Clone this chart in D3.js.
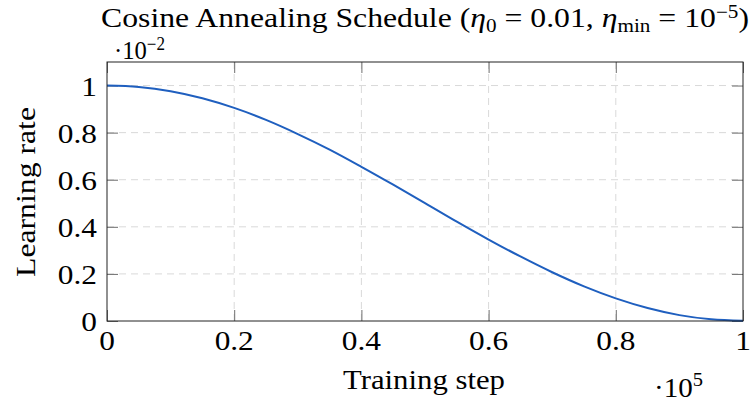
<!DOCTYPE html>
<html>
<head>
<meta charset="utf-8">
<script src="https://cdn.jsdelivr.net/npm/d3@7"></script>
<style>
  html, body { margin: 0; padding: 0; background: #fff; }
  svg text { font-family: "Liberation Serif", "Times New Roman", serif; fill: #000; }
</style>
</head>
<body>
<svg id="chart" width="754" height="403"></svg>
<script>
// Training step (×10^5)
const steps = [0, 0.05, 0.1, 0.15, 0.2, 0.25, 0.3, 0.35, 0.4, 0.45, 0.5,
               0.55, 0.6, 0.65, 0.7, 0.75, 0.8, 0.85, 0.9, 0.95, 1.0];
// Learning rate (×10^-2)
const learningRate = [1.000, 0.994, 0.976, 0.946, 0.905, 0.854, 0.794, 0.728, 0.655, 0.579, 0.501,
                      0.422, 0.346, 0.274, 0.207, 0.147, 0.096, 0.055, 0.025, 0.007, 0.001];
const xTicks = [0, 0.2, 0.4, 0.6, 0.8, 1];
const yTicks = [0, 0.2, 0.4, 0.6, 0.8, 1];
const xTickLabels = ["0", "0.2", "0.4", "0.6", "0.8", "1"];
const yTickLabels = ["0", "0.2", "0.4", "0.6", "0.8", "1"];

const svg = d3.select("#chart");
const L = 107, R = 743, T = 62, B = 321;
const x = d3.scaleLinear().domain([0, 1]).range([L, R]);
const y = d3.scaleLinear().domain([0, 1.1]).range([B, T]);

const tickFont = 27;
const stretchK = 1.16;
const gridColor = "#d9d9d9";

function stretch(sel, k) {
  sel.each(function() {
    const w = this.getComputedTextLength();
    d3.select(this).attr("textLength", w * k).attr("lengthAdjust", "spacingAndGlyphs");
  });
  return sel;
}

// Grid
const grid = svg.append("g");
grid.selectAll("line.vg").data(xTicks.slice(1, -1)).join("line").attr("class", "vg")
  .attr("x1", d => x(d)).attr("x2", d => x(d)).attr("y1", T).attr("y2", B)
  .attr("stroke", gridColor).attr("stroke-width", 1).attr("stroke-dasharray", "7,5");
grid.selectAll("line.hg").data(yTicks.slice(1)).join("line").attr("class", "hg")
  .attr("x1", L).attr("x2", R).attr("y1", d => y(d)).attr("y2", d => y(d))
  .attr("stroke", gridColor).attr("stroke-width", 1).attr("stroke-dasharray", "7,5");

// Axes: inner ticks on all four sides (labels drawn separately)
const tickLen = 11;
const tickColor = "#6e6e6e";
function styleAxis(g) {
  g.select(".domain").remove();
  g.selectAll(".tick line").attr("stroke", tickColor).attr("stroke-width", 1);
  g.selectAll(".tick text").remove();
}
svg.append("g").attr("transform", `translate(0,${B})`)
  .call(d3.axisBottom(x).tickValues(xTicks).tickSize(-tickLen)).call(styleAxis);
svg.append("g").attr("transform", `translate(0,${T})`)
  .call(d3.axisTop(x).tickValues(xTicks).tickSize(-tickLen)).call(styleAxis);
svg.append("g").attr("transform", `translate(${L},0)`)
  .call(d3.axisLeft(y).tickValues(yTicks).tickSize(-tickLen)).call(styleAxis);
svg.append("g").attr("transform", `translate(${R},0)`)
  .call(d3.axisRight(y).tickValues(yTicks).tickSize(-tickLen)).call(styleAxis);

// Tick labels
const xl = svg.append("g").selectAll("text").data(xTicks).join("text")
  .attr("x", d => x(d)).attr("y", B + 29).attr("text-anchor", "middle")
  .attr("font-size", tickFont).text((d, i) => xTickLabels[i]);
stretch(xl, stretchK);
const yl = svg.append("g").selectAll("text").data(yTicks).join("text")
  .attr("x", L - 10).attr("y", d => y(d) + 10).attr("text-anchor", "end")
  .attr("font-size", tickFont).text((d, i) => yTickLabels[i]);
stretch(yl, stretchK);

// Line
const line = d3.line().x((d, i) => x(steps[i])).y(d => y(d)).curve(d3.curveMonotoneX);
svg.append("path").datum(learningRate).attr("d", line)
  .attr("fill", "none").attr("stroke", "#1f5fbf").attr("stroke-width", 2);

// Frame
svg.append("rect").attr("x", L).attr("y", T).attr("width", R - L).attr("height", B - T)
  .attr("fill", "none").attr("stroke", "#222").attr("stroke-width", 1);

// Title
const title = svg.append("text").attr("x", 425).attr("y", 27).attr("text-anchor", "middle").attr("font-size", 27);
title.append("tspan").text("Cosine Annealing Schedule (");
title.append("tspan").attr("font-style", "italic").text("η");
title.append("tspan").attr("font-size", 18).attr("dy", 5).text("0");
title.append("tspan").attr("dy", -5).text(" = 0.01, ");
title.append("tspan").attr("font-style", "italic").text("η");
title.append("tspan").attr("font-size", 18).attr("dy", 5).text("min");
title.append("tspan").attr("dy", -5).text(" = 10");
title.append("tspan").attr("font-size", 18).attr("dy", -9).text("−5");
title.append("tspan").attr("dy", 9).text(")");
title.attr("textLength", 648).attr("lengthAdjust", "spacingAndGlyphs");

// Multipliers
const my = svg.append("text").attr("x", 114).attr("y", 59).attr("font-size", 26);
my.append("tspan").text("·10");
my.append("tspan").attr("font-size", 18).attr("dy", -9).text("−2");
my.attr("textLength", 51).attr("lengthAdjust", "spacingAndGlyphs");

const mx = svg.append("text").attr("x", 654).attr("y", 397).attr("font-size", 27);
mx.append("tspan").text("·10");
mx.append("tspan").attr("font-size", 19).attr("dy", -11).text("5");
mx.attr("textLength", 49).attr("lengthAdjust", "spacingAndGlyphs");

// Axis labels
const xt = svg.append("text").attr("x", 424).attr("y", 389).attr("text-anchor", "middle").attr("font-size", 28).text("Training step");
xt.attr("textLength", 162).attr("lengthAdjust", "spacingAndGlyphs");
const ytl = svg.append("text").attr("transform", "translate(35,192) rotate(-90)").attr("text-anchor", "middle").attr("font-size", 28).text("Learning rate");
ytl.attr("textLength", 170).attr("lengthAdjust", "spacingAndGlyphs");
</script>
</body>
</html>
